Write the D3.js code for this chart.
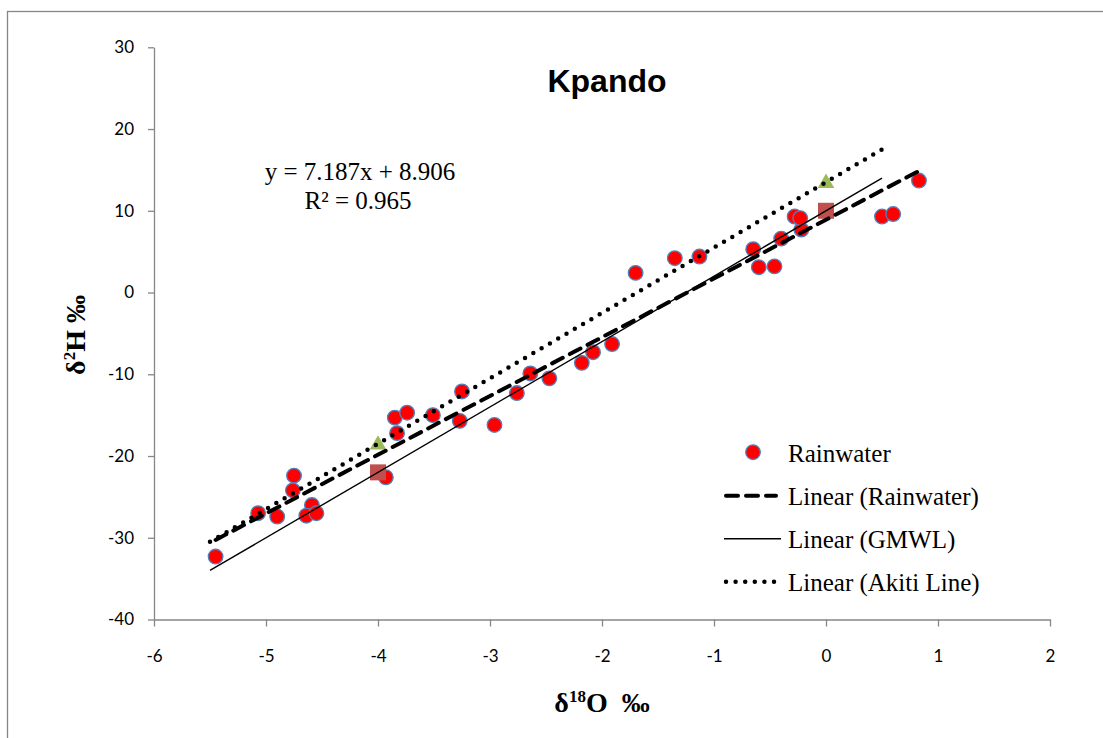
<!DOCTYPE html>
<html>
<head>
<meta charset="utf-8">
<script src="https://cdn.jsdelivr.net/npm/d3@7"></script>
<style>
  body { margin: 0; background: #fff; }
  .tick text { font-family: "Lato", "Liberation Sans", sans-serif; font-size: 17px; fill: #000; }
  .serif { font-family: "Liberation Serif", "Times New Roman", serif; white-space: pre; }
</style>
</head>
<body>
<svg id="chart" width="1103" height="738"></svg>
<script>
// ....................
// data

// rainwater samples (d18O, d2H)
var rainO18 = [-5.45, -5.07, -4.90, -4.75, -4.76, -4.59, -4.64, -4.55, -3.93, -3.85,
               -3.74, -3.83, -3.51, -3.25, -3.27, -2.96, -2.76, -2.64, -2.47, -2.18,
               -2.08, -1.91, -1.70, -1.35, -1.13, -0.65, -0.60, -0.46, -0.40, -0.22,
               -0.28, -0.23, 0.50, 0.60, 0.83];
var rainH2  = [-32.3, -27.0, -27.4, -22.4, -24.2, -26.0, -27.3, -27.0, -22.6, -15.3,
               -14.7, -17.2, -15.0, -12.1, -15.7, -16.2, -12.3, -9.9, -10.5, -8.6,
               -7.3, -6.3, 2.4, 4.2, 4.4, 5.3, 3.1, 3.2, 6.6, 7.7,
               9.3, 9.1, 9.3, 9.6, 13.7];

// reference line points
var gmwlO18 = [-4, 0];
var gmwlH2 = [-22, 10];
var akitiO18 = [-4, 0];
var akitiH2 = [-18.5, 13.5];

// trendlines: name, slope, intercept, x from, x to
var trendNames = ["Linear (Rainwater)", "Linear (GMWL)", "Linear (Akiti Line)"];
var trendSlope = [7.187, 8, 8];
var trendIntercept = [8.906, 10, 13.5];
var trendFrom = [-5.45, -5.5, -5.5];
var trendTo = [0.83, 0.5, 0.5];

var xTicks = [-6, -5, -4, -3, -2, -1, 0, 1, 2];
var yTicks = [-40, -30, -20, -10, 0, 10, 20, 30];

// ....................
// scales and frame

var svg = d3.select("#chart");
var x = d3.scaleLinear().domain([-6, 2]).range([154, 1050]);
var y = d3.scaleLinear().domain([-40, 30]).range([619.5, 47.3]);
var axisGrey = "#868686";
var plainNum = function (d) { return String(d); }; // hyphen minus like the original

// outer chart border (only left and top fall inside the picture)
svg.append("rect")
  .attr("x", 7.5).attr("y", 11.5)
  .attr("width", 1300).attr("height", 1000)
  .attr("fill", "none").attr("stroke", axisGrey).attr("stroke-width", 1.3);

var gx = svg.append("g")
  .attr("transform", "translate(0," + y(-40) + ")")
  .call(d3.axisBottom(x).tickValues(xTicks).tickFormat(plainNum)
        .tickSize(7).tickSizeOuter(0).tickPadding(23));
var gy = svg.append("g")
  .attr("transform", "translate(" + x(-6) + ",0)")
  .call(d3.axisLeft(y).tickValues(yTicks).tickFormat(plainNum)
        .tickSize(6).tickSizeOuter(0).tickPadding(14));
[gx, gy].forEach(function (g) {
  g.selectAll("path, line").attr("stroke", axisGrey).attr("stroke-width", 1.3);
});

// ....................
// markers

svg.append("g").selectAll("circle")
  .data(rainO18)
  .enter().append("circle")
    .attr("cx", function (d) { return x(d); })
    .attr("cy", function (d, i) { return y(rainH2[i]); })
    .attr("r", 7.3)
    .attr("fill", "#ff0000")
    .attr("stroke", "#4f81bd").attr("stroke-width", 1.3);

svg.append("g").selectAll("rect")
  .data(gmwlO18)
  .enter().append("rect")
    .attr("x", function (d) { return x(d) - 8; })
    .attr("y", function (d, i) { return y(gmwlH2[i]) - 8; })
    .attr("width", 16).attr("height", 16)
    .attr("fill", "#c0504d");

svg.append("g").selectAll("path")
  .data(akitiO18)
  .enter().append("path")
    .attr("d", d3.symbol().type(d3.symbolTriangle).size(120))
    .attr("transform", function (d, i) { return "translate(" + x(d) + "," + (y(akitiH2[i]) + 1) + ")"; })
    .attr("fill", "#9bbb59");

// ....................
// trendlines

var trendStyle = [
  { width: 4, dash: "12,8", cap: "round" },
  { width: 1.4, dash: null, cap: "butt" },
  { width: 4.5, dash: "0,9.6", cap: "round" }
];

var lineGen = d3.line().x(function (d) { return x(d[0]); }).y(function (d) { return y(d[1]); });

trendNames.forEach(function (name, i) {
  var pts = [trendFrom[i], trendTo[i]].map(function (v) {
    return [v, trendSlope[i] * v + trendIntercept[i]];
  });
  svg.append("path")
    .attr("d", lineGen(pts))
    .attr("fill", "none").attr("stroke", "#000")
    .attr("stroke-width", trendStyle[i].width)
    .attr("stroke-linecap", trendStyle[i].cap)
    .attr("stroke-dasharray", trendStyle[i].dash);
});

// ....................
// texts

svg.append("text")
  .attr("x", 607).attr("y", 92)
  .attr("text-anchor", "middle")
  .style("font-family", "'Liberation Sans', Arial, sans-serif")
  .style("font-weight", "bold").style("font-size", "32px")
  .text("Kpando");

var eq = svg.append("text").attr("class", "serif")
  .attr("text-anchor", "middle").style("font-size", "25px");
eq.append("tspan").attr("x", 360).attr("y", 180).text("y = 7.187x + 8.906");
eq.append("tspan").attr("x", 358).attr("y", 209).text("R² = 0.965");

// axis titles
var xt = svg.append("text").attr("class", "serif")
  .attr("x", 602).attr("y", 712)
  .attr("text-anchor", "middle")
  .style("font-size", "28px").style("font-weight", "bold");
xt.append("tspan").text("δ");
xt.append("tspan").attr("dy", -10).style("font-size", "17px").text("18");
xt.append("tspan").attr("dy", 10).text("O  ‰");

var yt = svg.append("text").attr("class", "serif")
  .attr("transform", "translate(85,335) rotate(-90)")
  .attr("text-anchor", "middle")
  .style("font-size", "28px").style("font-weight", "bold");
yt.append("tspan").text("δ");
yt.append("tspan").attr("dy", -10).style("font-size", "17px").text("2");
yt.append("tspan").attr("dy", 10).text("H ‰");

// ....................
// legend

var legendLabels = ["Rainwater"].concat(trendNames);
var legend = svg.append("g");
legendLabels.forEach(function (lab, i) {
  var base = 461.7 + i * 43;
  var g = legend.append("g");
  if (i === 0) {
    g.append("circle").attr("cx", 753).attr("cy", base - 9.5).attr("r", 7.3)
      .attr("fill", "#ff0000").attr("stroke", "#4f81bd").attr("stroke-width", 1.3);
  } else {
    var st = trendStyle[i - 1];
    g.append("line")
      .attr("x1", st.cap === "round" ? 726 : 724).attr("x2", st.cap === "round" ? 776 : 781)
      .attr("y1", base - 9).attr("y2", base - 9)
      .attr("stroke", "#000").attr("stroke-width", st.width)
      .attr("stroke-linecap", st.cap)
      .attr("stroke-dasharray", st.dash);
  }
  g.append("text").attr("class", "serif")
    .attr("x", 788).attr("y", base)
    .style("font-size", "25px")
    .text(lab);
});
</script>
</body>
</html>
